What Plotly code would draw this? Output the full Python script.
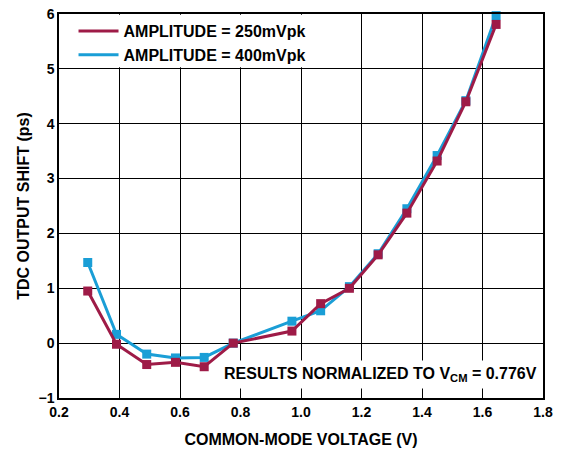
import plotly.graph_objects as go

# Common-mode voltage sweep (V)
vcm = [0.295, 0.39, 0.49, 0.585, 0.68, 0.776, 0.97, 1.065, 1.16, 1.255, 1.35, 1.45, 1.545, 1.645]

# TDC output shift (ps), normalized to VCM = 0.776 V
shift_250 = [0.95, -0.02, -0.39, -0.35, -0.43, 0.0, 0.22, 0.72, 1.0, 1.61, 2.37, 3.32, 4.40, 5.81]
shift_400 = [1.47, 0.16, -0.20, -0.27, -0.26, 0.0, 0.40, 0.59, 1.03, 1.63, 2.45, 3.42, 4.42, 5.97]

series_names = ["AMPLITUDE = 250mVpk", "AMPLITUDE = 400mVpk"]
x_ticks = [0.2, 0.4, 0.6, 0.8, 1.0, 1.2, 1.4, 1.6, 1.8]
y_ticks = [-1, 0, 1, 2, 3, 4, 5, 6]

MAROON = "#9e1b47"
BLUE = "#1a9ed6"
FONT = "Liberation Sans, Arial, sans-serif"


def bold(size):
    return dict(family=FONT, size=size, color="black", weight="bold")


fig = go.Figure()

# 400 mVpk drawn first so the 250 mVpk trace sits on top
for ys, name, color, rank in [
    (shift_400, series_names[1], BLUE, 2),
    (shift_250, series_names[0], MAROON, 1),
]:
    fig.add_trace(go.Scatter(
        x=vcm, y=ys, mode="lines", name=name,
        line=dict(color=color, width=3), legendrank=rank,
    ))
    fig.add_trace(go.Scatter(
        x=vcm, y=ys, mode="markers", showlegend=False,
        marker=dict(symbol="square", size=9, color=color),
        cliponaxis=False,
    ))

axis_common = dict(
    showline=True, linecolor="black", linewidth=1.5, mirror=True,
    showgrid=True, gridcolor="black", gridwidth=1,
    zeroline=False, ticks="",
    tickfont=bold(14),
)

fig.update_xaxes(
    range=[0.2, 1.8], tickvals=x_ticks, ticktext=[f"{v:.1f}" for v in x_ticks],
    title=dict(text="COMMON-MODE VOLTAGE (V)", font=bold(16), standoff=15),
    **axis_common,
)
fig.update_yaxes(
    range=[-1, 6], tickvals=y_ticks,
    title=dict(text="TDC OUTPUT SHIFT (ps)", font=bold(16), standoff=5),
    **axis_common,
)

# White panel behind the legend, kept inside the frame
fig.add_shape(
    type="rect", xref="x", yref="y",
    x0=0.203, x1=1.04, y0=5.03, y1=5.985,
    fillcolor="white", line=dict(width=0), layer="above",
)

fig.add_annotation(
    x=0.998, xref="paper", xanchor="right",
    y=-0.58, yref="y", yanchor="middle",
    text="RESULTS NORMALIZED TO V<sub>CM</sub> = 0.776V",
    showarrow=False, bgcolor="white", borderpad=4,
    font=bold(16),
)

fig.update_layout(
    width=569, height=456,
    margin=dict(l=59, r=26, t=14, b=58, autoexpand=False),
    paper_bgcolor="white", plot_bgcolor="white",
    legend=dict(
        x=0.03, y=1.0, xanchor="left", yanchor="top",
        bgcolor="rgba(0,0,0,0)", borderwidth=0,
        font=bold(16),
        itemwidth=40, tracegroupgap=0,
    ),
)

fig.write_html("out.html")
